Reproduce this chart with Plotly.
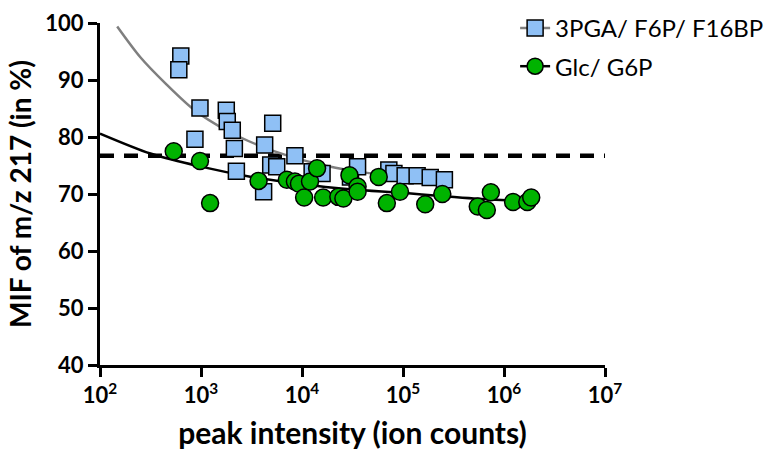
import plotly.graph_objects as go

# --- data ---
pga_x = [631, 603, 977, 1780, 1820, 2040, 4270, 5130, 871, 2140, 2240, 4170, 4900, 5620,
         12600, 8510, 15800, 30200, 35500, 72400, 81300, 105000, 138000, 186000, 257000]
pga_y = [94.2, 91.8, 85.1, 84.7, 82.7, 81.2, 78.6, 82.4, 79.6, 78.0, 74.0, 70.4, 75.1, 74.8,
         73.9, 76.7, 73.6, 73.0, 74.8, 74.2, 73.6, 73.2, 73.2, 72.9, 72.5]

glc_x = [537, 977, 1230, 3715, 7080, 8510, 9330, 12000, 14100, 10500, 16200, 22900, 25700,
         29500, 35500, 35500, 57500, 69200, 93300, 166000, 245000, 550000, 676000, 741000,
         1230000, 1700000, 1860000]
glc_y = [77.5, 75.8, 68.4, 72.3, 72.5, 72.2, 71.8, 72.2, 74.5, 69.4, 69.4, 69.5, 69.2,
         73.3, 71.3, 70.4, 73.0, 68.4, 70.4, 68.2, 70.0, 67.8, 67.2, 70.3,
         68.6, 68.6, 69.4]

# fitted curves
pga_fit_x = [148, 251, 457, 851, 1820, 3890, 7590, 15850, 31620, 79430, 251190]
pga_fit_y = [99.4, 94.0, 89.2, 84.8, 81.1, 78.4, 76.6, 75.1, 74.1, 73.1, 72.3]
glc_fit_x = [100, 316, 1000, 3162, 10000, 31623, 100000, 251189, 501187, 1071519, 1862000]
glc_fit_y = [80.6, 77.1, 74.8, 73.0, 71.7, 70.8, 70.2, 69.6, 69.2, 68.9, 68.7]

ref_x = [100, 10000000]
ref_y = [76.7, 76.7]

x_tickvals = [1e2, 1e3, 1e4, 1e5, 1e6, 1e7]
x_ticktext = ["10<sup>2</sup>", "10<sup>3</sup>", "10<sup>4</sup>",
              "10<sup>5</sup>", "10<sup>6</sup>", "10<sup>7</sup>"]
y_tickvals = [40, 50, 60, 70, 80, 90, 100]

series_names = ["3PGA/ F6P/ F16BP", "Glc/ G6P"]

SQ = "#8fc0f5"
GR = "#00b300"
FONT = "Lato"

fig = go.Figure()
fig.add_trace(go.Scatter(x=ref_x, y=ref_y, mode="lines", showlegend=False,
                         line=dict(color="black", width=4.5, dash="14px,10px")))
fig.add_trace(go.Scatter(x=pga_fit_x, y=pga_fit_y, mode="lines", showlegend=False,
                         line=dict(color="#7f7f7f", width=2.5, shape="spline", smoothing=0.8)))
fig.add_trace(go.Scatter(x=glc_fit_x, y=glc_fit_y, mode="lines", showlegend=False,
                         line=dict(color="black", width=2.5, shape="spline", smoothing=0.8)))
fig.add_trace(go.Scatter(x=pga_x, y=pga_y, mode="markers", showlegend=False,
                         marker=dict(symbol="square", size=16, color=SQ,
                                     line=dict(color="black", width=1.5))))
fig.add_trace(go.Scatter(x=glc_x, y=glc_y, mode="markers", showlegend=False,
                         marker=dict(symbol="circle", size=17, color=GR,
                                     line=dict(color="black", width=1.5))))
# legend entries
fig.add_trace(go.Scatter(x=[None], y=[None], mode="lines+markers", name=series_names[0],
                         legendgroup="a",
                         line=dict(color="#7f7f7f", width=2.5),
                         marker=dict(symbol="square", size=16, color=SQ,
                                     line=dict(color="black", width=1.5))))
fig.add_trace(go.Scatter(x=[None], y=[None], mode="lines+markers", name=series_names[1],
                         legendgroup="b",
                         line=dict(color="black", width=2.5),
                         marker=dict(symbol="circle", size=17, color=GR,
                                     line=dict(color="black", width=1.5))))

fig.update_layout(
    width=770, height=450,
    margin=dict(l=100, r=165, t=23, b=85, autoexpand=False),
    plot_bgcolor="white", paper_bgcolor="white",
    font=dict(family=FONT, color="black"),
    legend=dict(x=0.822, y=1.05, xanchor="left", yanchor="top",
                font=dict(family=FONT, size=24, color="black"),
                bgcolor="rgba(0,0,0,0)", tracegroupgap=4),
)
fig.update_xaxes(type="log", range=[2, 7], tickvals=x_tickvals, ticktext=x_ticktext,
                 showline=True, linecolor="black", linewidth=3, mirror=False,
                 ticks="outside", ticklen=9, tickwidth=3, tickcolor="black",
                 showgrid=False, zeroline=False,
                 tickfont=dict(family=FONT, size=22, weight="bold"),
                 title=dict(text="peak intensity (ion counts)",
                            font=dict(family=FONT, size=30, weight="bold"), standoff=16))
fig.update_yaxes(range=[40, 100], tickvals=y_tickvals,
                 showline=True, linecolor="black", linewidth=3,
                 ticks="outside", ticklen=9, tickwidth=3, tickcolor="black",
                 showgrid=False, zeroline=False,
                 tickfont=dict(family=FONT, size=22, weight="bold"),
                 title=dict(text="MIF of m/z 217 (in %)",
                            font=dict(family=FONT, size=28, weight="bold"), standoff=6))

fig.write_html("out.html")
